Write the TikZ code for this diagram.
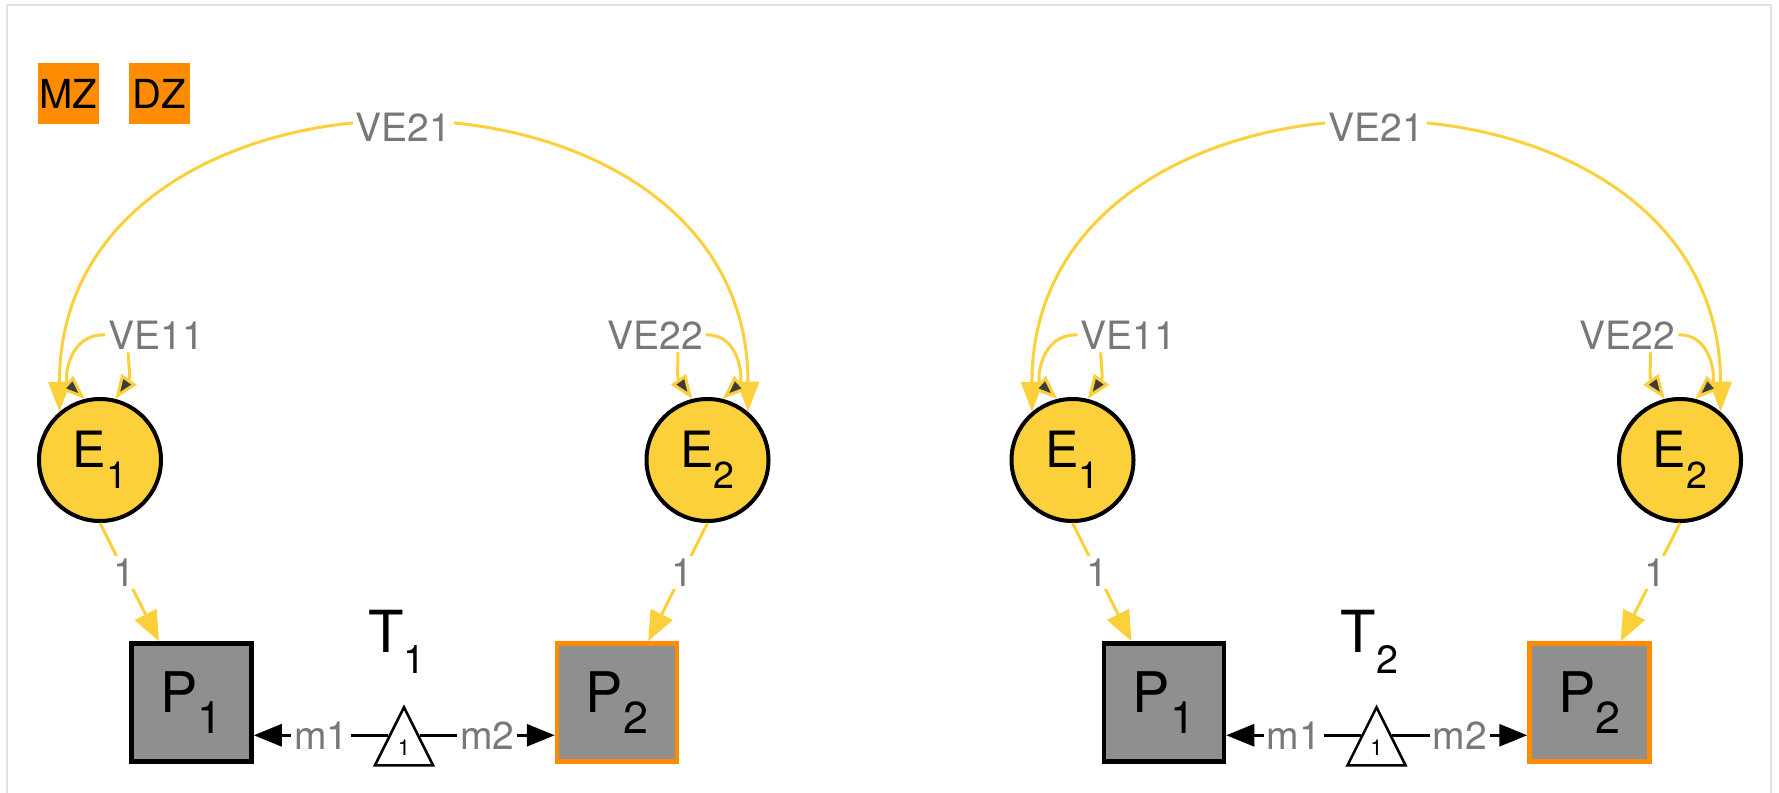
\documentclass[tikz,border=0pt]{standalone}
\usepackage{fontspec}
\setmainfont{TeX Gyre Heros}
\usepackage{graphicx}
\usetikzlibrary{arrows.meta,shapes.geometric}

\definecolor{ylw}{HTML}{FBD03B}
\definecolor{boxgray}{HTML}{8F8F8F}
\definecolor{orng}{HTML}{FF8C00}
\definecolor{lblgray}{HTML}{787878}
\definecolor{framegray}{HTML}{E2E2E2}
\definecolor{headgray}{HTML}{3C3C3C}

\newcommand\ix[2][0.75]{\raisebox{-21pt}{\scalebox{#1}{#2}}}
\newcommand\fs[1]{\fontsize{#1}{#1}\selectfont}

\begin{document}
\begin{tikzpicture}[x=1pt,y=-1pt,
  latent/.style={circle,draw=black,line width=4pt,fill=ylw,minimum size=122pt,inner sep=0pt,font=\fs{50}},
  manifest/.style={draw=black,line width=4.5pt,fill=boxgray,minimum width=120pt,minimum height=118pt,inner sep=0pt,font=\fs{56}},
  twin/.style={manifest,draw=orng},
  meantri/.style={isosceles triangle,isosceles triangle stretches,shape border rotate=90,draw=black,line width=2.5pt,fill=white,minimum width=58pt,minimum height=58pt,inner sep=0pt,font=\fs{22},anchor=apex},
  grpbox/.style={fill=orng,minimum size=61pt,inner sep=0pt,font=\fs{40}},
  ttl/.style={inner sep=0pt,font=\fs{58}},
  lbl/.style={fill=white,text=lblgray,inner sep=3pt,font=\fs{39}},
  cov/.style={draw=ylw,line width=3pt,{Triangle[length=30pt,width=22pt]}-{Triangle[length=30pt,width=22pt]}},
  var/.style={draw=ylw,line width=3pt,-{Triangle[length=24pt,width=18pt,fill=headgray]}},
  load/.style={draw=ylw,line width=3pt,-{Triangle[length=30pt,width=24pt]}},
  meanarr/.style={draw=black,line width=3pt,-{Triangle[length=28pt,width=22pt]}}
]
\useasboundingbox (0,0) rectangle (1779,792);
\draw[framegray,line width=2pt] (7,800) -- (7,5) -- (1771,5) -- (1771,800);

\node[grpbox] (mz) at (68.5,93.5) {MZ};
\node[grpbox] (dz) at (159.5,93.5) {DZ};

\node[latent] (e1a) at (100,460) {E\ix{1}};
\node[latent] (e2a) at (707.5,460) {E\ix{2}};
\node[manifest] (p1a) at (191.5,702.5) {P\ix[0.8]{1}};
\node[twin] (p2a) at (617,702.5) {P\ix[0.8]{2}};
\node[meantri] (tria) at (404,704) {1};
\node[ttl] (t1) at (397,642) {T\ix[0.68]{1}};
\node[lbl] (v11a) at (156,335) {VE11};
\node[lbl] (v22a) at (655,335) {VE22};

\draw[cov] (e1a.130) .. controls (59,33) and (748,33) .. (e2a.50) node[lbl,pos=0.5] {VE21};
\draw[var] (v11a.west) .. controls (68,333) and (64,380) .. (e1a.104);
\draw[var] ([xshift=-28pt]v11a.south) .. controls (130,378) .. (e1a.76);
\draw[var] (v22a.east) .. controls (739.5,333) and (743.5,380) .. (e2a.76);
\draw[var] ([xshift=23pt]v22a.south) .. controls (677.5,378) .. (e2a.104);
\draw[load] (e1a.south) -- (p1a.118) node[lbl,pos=0.42] {1};
\draw[load] (e2a.south) -- (p2a.63) node[lbl,pos=0.42] {1};
\draw[meanarr] (tria.left side) -- (tria.left side -| p1a.east) node[lbl,midway] {m1};
\draw[meanarr] (tria.right side) -- (tria.right side -| p2a.west) node[lbl,midway] {m2};

\node[latent] (e1b) at (1072.5,460) {E\ix{1}};
\node[latent] (e2b) at (1680,460) {E\ix{2}};
\node[manifest] (p1b) at (1164,702.5) {P\ix[0.8]{1}};
\node[twin] (p2b) at (1589.5,702.5) {P\ix[0.8]{2}};
\node[meantri] (trib) at (1376.5,704) {1};
\node[ttl] (t2) at (1369.5,642) {T\ix[0.68]{2}};
\node[lbl] (v11b) at (1128.5,335) {VE11};
\node[lbl] (v22b) at (1627.5,335) {VE22};

\draw[cov] (e1b.130) .. controls (1031.5,33) and (1720.5,33) .. (e2b.50) node[lbl,pos=0.5] {VE21};
\draw[var] (v11b.west) .. controls (1040.5,333) and (1036.5,380) .. (e1b.104);
\draw[var] ([xshift=-28pt]v11b.south) .. controls (1102.5,378) .. (e1b.76);
\draw[var] (v22b.east) .. controls (1712,333) and (1716,380) .. (e2b.76);
\draw[var] ([xshift=23pt]v22b.south) .. controls (1650,378) .. (e2b.104);
\draw[load] (e1b.south) -- (p1b.118) node[lbl,pos=0.42] {1};
\draw[load] (e2b.south) -- (p2b.63) node[lbl,pos=0.42] {1};
\draw[meanarr] (trib.left side) -- (trib.left side -| p1b.east) node[lbl,midway] {m1};
\draw[meanarr] (trib.right side) -- (trib.right side -| p2b.west) node[lbl,midway] {m2};
\end{tikzpicture}
\end{document}
